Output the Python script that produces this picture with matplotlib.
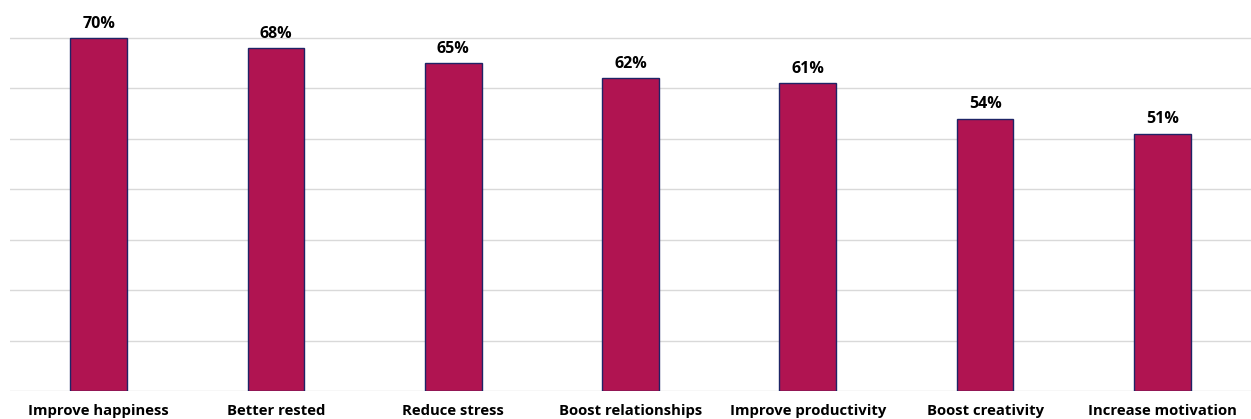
import matplotlib.pyplot as plt
import numpy as np

categories = ["Improve happiness", "Better rested", "Reduce stress", "Boost relationships",
              "Improve productivity", "Boost creativity", "Increase motivation"]
values = [70, 68, 65, 62, 61, 54, 51]
labels = ["70%", "68%", "65%", "62%", "61%", "54%", "51%"]

plt.rcParams['font.family'] = ['Open Sans', 'DejaVu Sans']

fig = plt.figure(figsize=(12.51, 4.19), dpi=100)
ax = fig.add_axes([10 / 1251, 28 / 419, 1 - 10 / 1251, 1 - 28 / 419])

x = np.arange(len(categories))
bars = ax.bar(x, values, width=0.32, color="#B01451", edgecolor="#1F2466", linewidth=1, zorder=3)

for b, lab in zip(bars, labels):
    ax.annotate(lab, (b.get_x() + b.get_width() / 2, b.get_height()),
                xytext=(0, 4.5), textcoords="offset points", ha="center", va="bottom",
                fontsize=11.5, fontweight="bold", color="#000000")

ax.set_xlim(-0.5, len(categories) - 0.5)
ax.set_ylim(0, 77.5)
ax.set_yticks(np.arange(0, 71, 10))
ax.yaxis.grid(True, color="#D9D9D9", linewidth=1, zorder=0)
ax.tick_params(axis="y", left=False, labelleft=False)
ax.tick_params(axis="x", bottom=False, pad=6)
ax.set_xticks(x)
ax.set_xticklabels(categories, fontsize=10.7, fontweight="bold")
for s in ["top", "right", "left", "bottom"]:
    ax.spines[s].set_visible(False)

fig.savefig("out.png", dpi=100)
